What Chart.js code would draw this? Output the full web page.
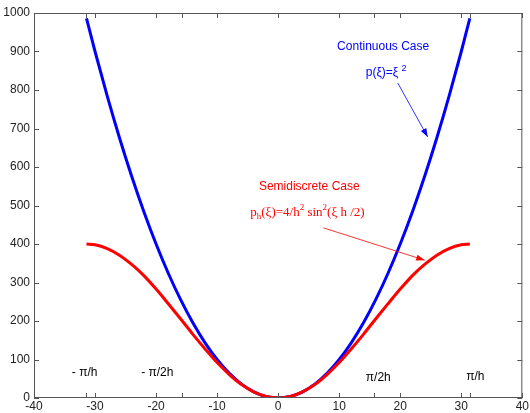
<!DOCTYPE html>
<html>
<head>
<meta charset="utf-8">
<script src="https://cdn.jsdelivr.net/npm/chart.js@4"></script>
<style>
  html,body{margin:0;padding:0;background:#fff;}
  #wrap{width:530px;height:413px;}
</style>
</head>
<body>
<div id="wrap"><canvas id="c" width="530" height="413"></canvas></div>
<script>
// values
const xi = [-31.4,-30,-28,-26,-24,-22,-20,-18,-16,-14,-12,-10,-8,-6,-4,-2,0,2,4,6,8,10,12,14,16,18,20,22,24,26,28,30,31.4];
const continuous = [986,900,784,676,576,484,400,324,256,196,144,100,64,36,16,4,0,4,16,36,64,100,144,196,256,324,400,484,576,676,784,900,986];
const semidiscrete = [400,398,388,371,347,318,283,245,206,166,128,92,61,35,16,4,0,4,16,35,61,92,128,166,206,245,283,318,347,371,388,398,400];
const xTicks = [-40,-30,-20,-10,0,10,20,30,40];
const extraTicks = [-31.4,-15.7,15.7,31.4];
const yTicks = [0,100,200,300,400,500,600,700,800,900,1000];

let pts=(xs,ys)=>xs.map((x,i)=>({x:x,y:ys[i]}));

// frame + inward ticks
const framePlugin = {
  id:'frame',
  afterDraw(chart){
    const {ctx,chartArea:a,scales:{x,y}} = chart;
    ctx.save();
    ctx.strokeStyle='#555';
    ctx.lineWidth=1;
    ctx.strokeRect(a.left+0.5,a.top+0.5,a.right-a.left-1,a.bottom-a.top-1);
    ctx.beginPath();
    xTicks.concat(extraTicks).forEach(v=>{
      let px=Math.round(x.getPixelForValue(v))+0.5;
      ctx.moveTo(px,a.bottom); ctx.lineTo(px,a.bottom-5);
      ctx.moveTo(px,a.top); ctx.lineTo(px,a.top+5);
    });
    yTicks.forEach(v=>{
      let py=Math.round(y.getPixelForValue(v))+0.5;
      ctx.moveTo(a.left,py); ctx.lineTo(a.left+5,py);
      ctx.moveTo(a.right,py); ctx.lineTo(a.right-5,py);
    });
    ctx.stroke();
    ctx.restore();
  }
};

// arrow helper
let arrow=(ctx,x1,y1,x2,y2,col)=>{
  ctx.strokeStyle=col; ctx.fillStyle=col; ctx.lineWidth=0.8;
  ctx.beginPath(); ctx.moveTo(x1,y1); ctx.lineTo(x2,y2); ctx.stroke();
  let ang=Math.atan2(y2-y1,x2-x1), L=9, w=0.35;
  ctx.beginPath();
  ctx.moveTo(x2,y2);
  ctx.lineTo(x2-L*Math.cos(ang-w),y2-L*Math.sin(ang-w));
  ctx.lineTo(x2-L*Math.cos(ang+w),y2-L*Math.sin(ang+w));
  ctx.closePath(); ctx.fill();
};

// draws a run of pieces [text, font, dy] centered on cx
let runText=(ctx,cx,cy,pieces,col)=>{
  ctx.fillStyle=col; ctx.textBaseline='middle'; ctx.textAlign='left';
  let total=0;
  pieces.forEach(p=>{ctx.font=p[1]; total+=ctx.measureText(p[0]).width;});
  let px=cx-total/2;
  pieces.forEach(p=>{ctx.font=p[1]; ctx.fillText(p[0],px,cy+p[2]); px+=ctx.measureText(p[0]).width;});
};

const notesPlugin = {
  id:'notes',
  afterDatasetsDraw(chart){
    const {ctx,scales:{x,y}} = chart;
    let X=v=>x.getPixelForValue(v), Y=v=>y.getPixelForValue(v);
    ctx.save();
    const sans='12px "Liberation Sans", Arial, sans-serif';
    const sansSm='9px "Liberation Sans", Arial, sans-serif';
    const serif='13px "Liberation Serif", "Times New Roman", serif';
    const serifSm='9px "Liberation Serif", "Times New Roman", serif';
    ctx.textAlign='center'; ctx.textBaseline='middle';

    // continuous case
    ctx.fillStyle='#0000ff'; ctx.font=sans;
    ctx.fillText('Continuous Case',X(17.2),Y(912));
    runText(ctx,X(17.7),Y(844),[['p(ξ)=ξ ',sans,0],['2',sansSm,-5]],'#0000ff');
    arrow(ctx,X(19.6),Y(818),X(24.5),Y(678),'#0000ff');

    // semidiscrete case
    ctx.fillStyle='#ff0000'; ctx.font=sans; ctx.textAlign='center';
    ctx.fillText('Semidiscrete Case',X(5.1),Y(548));
    runText(ctx,X(4.8),Y(481),[
      ['p',serif,0],['h',serifSm,4],['(ξ)=4/h',serif,0],['2',serifSm,-5],
      [' sin',serif,0],['2',serifSm,-5],['(ξ h /2)',serif,0]
    ],'#ff0000');
    arrow(ctx,X(7.4),Y(442),X(24.0),Y(358),'#ff0000');

    // pi labels
    ctx.fillStyle='#000'; ctx.font=sans; ctx.textAlign='center';
    ctx.fillText('- π/h',X(-31.7),Y(65));
    ctx.fillText('- π/2h',X(-19.8),Y(65));
    ctx.fillText('π/2h',X(16.4),Y(52));
    ctx.fillText('π/h',X(32.3),Y(55));
    ctx.restore();
  }
};

new Chart(document.getElementById('c'),{
  type:'line',
  data:{
    datasets:[
      {label:'Semidiscrete Case',data:pts(xi,semidiscrete),borderColor:'#ff0000',borderWidth:3,pointRadius:0,tension:0.4,cubicInterpolationMode:'monotone',order:0},
      {label:'Continuous Case',data:pts(xi,continuous),borderColor:'#0000ff',borderWidth:3,pointRadius:0,tension:0.4,cubicInterpolationMode:'monotone',order:1}
    ]
  },
  options:{
    responsive:false,
    animation:false,
    layout:{padding:{top:13,right:5,left:0,bottom:0}},
    plugins:{legend:{display:false},tooltip:{enabled:false}},
    scales:{
      x:{
        type:'linear',min:-40,max:40,
        afterBuildTicks:s=>{s.ticks=xTicks.map(v=>({value:v}));},
        afterFit:s=>{s.height=15;},
        grid:{display:false,drawTicks:false},
        border:{display:false},
        ticks:{padding:1,color:'#222',font:{family:'"Liberation Sans", Arial',size:12},maxRotation:0,callback:v=>String(v)}
      },
      y:{
        min:0,max:1000,
        afterBuildTicks:s=>{s.ticks=yTicks.map(v=>({value:v}));},
        afterFit:s=>{s.width=34;},
        grid:{display:false,drawTicks:false},
        border:{display:false},
        ticks:{padding:4,color:'#222',font:{family:'"Liberation Sans", Arial',size:12},callback:v=>String(v)}
      }
    }
  },
  plugins:[framePlugin,notesPlugin]
});
</script>
</body>
</html>
